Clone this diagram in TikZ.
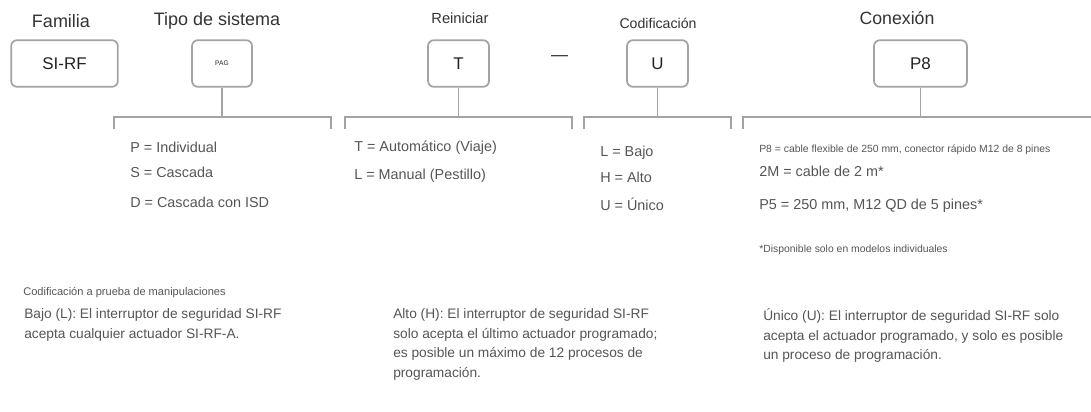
\documentclass[tikz,border=0pt]{standalone}
\usepackage{xcolor}
\usepackage{fontspec}
\setmainfont{Liberation Sans}
\usetikzlibrary{positioning, calc}
\definecolor{linec}{HTML}{A3A3A3}
\definecolor{titlec}{HTML}{333333}
\definecolor{boxtxt}{HTML}{222222}
\definecolor{itemc}{HTML}{555555}

\begin{document}
\begin{tikzpicture}[x=0.75pt, y=-0.75pt,
  title/.style={text=titlec, inner sep=0pt, font=\fontsize{13.5}{16}\selectfont},
  subtitle/.style={text=titlec, inner sep=0pt, font=\fontsize{11}{13}\selectfont},
  codebox/.style={draw=linec, line width=1.3pt, rounded corners=4.5pt,
                  minimum height=35pt, text=boxtxt, font=\fontsize{12.7}{15}\selectfont},
  link/.style={draw=linec, line width=1.3pt},
  item/.style={anchor=west, inner sep=0pt, text=itemc, font=\fontsize{10.8}{13}\selectfont},
  note/.style={anchor=west, inner sep=0pt, text=itemc, font=\fontsize{7.8}{9}\selectfont},
  para/.style={anchor=north west, inner sep=0pt, align=left, text=itemc,
               font=\fontsize{10.3}{14.6}\selectfont, execute at begin node={\strut}}]
  \useasboundingbox (0,0) rectangle (1091,411);
  % code boxes
  \node[codebox, minimum width=80pt] (fam) at (64.5,63.5) {SI-RF};
  \node[codebox, minimum width=45pt, font=\fontsize{5}{6}\selectfont] (sys) at (222,63.5) {PAG};
  \node[codebox, minimum width=45.75pt] (rst) at (458.5,63.5) {T};
  \node[codebox, minimum width=45.75pt] (cod) at (657.5,63.5) {U};
  \node[codebox, minimum width=69.75pt] (con) at (920.5,63.5) {P8};
  \node[text=boxtxt, font=\fontsize{12.7}{15}\selectfont] (dash) at (559.5,58) {—};
  % titles
  \node[title] (famT) at (61,21) {Familia};
  \node[title] (sysT) at (217,21) {Tipo de sistema};
  \node[subtitle] (rstT) at (460,18) {Reiniciar};
  \node[subtitle, font=\fontsize{10.6}{13}\selectfont] (codT) at (658,23) {Codificación};
  \node[title, font=\fontsize{13.3}{16}\selectfont] (conT) at (897,18) {Conexión};
  % brackets
  \coordinate (sysL) at (114,129); \coordinate (sysR) at (331,129); \coordinate (sysM) at (222,117);
  \coordinate (rstL) at (345,129); \coordinate (rstR) at (572,129); \coordinate (rstM) at (458.5,117);
  \coordinate (codL) at (584,129); \coordinate (codR) at (731,129); \coordinate (codM) at (657.5,117);
  \coordinate (conL) at (743,129); \coordinate (conR) at (1091,117); \coordinate (conM) at (920.5,117);
  \draw[link] (sysL) -- ++(0,-12) -| (sysR);
  \draw[link] (rstL) -- ++(0,-12) -| (rstR);
  \draw[link] (codL) -- ++(0,-12) -| (codR);
  \draw[link] (conL) -- ++(0,-12) -- (conR);
  \draw[link] (sys) -- (sysM);
  \draw[link] (rst) -- (rstM);
  \draw[link] (cod) -- (codM);
  \draw[link] (con) -- (conM);
  % options
  \node[item] (sysP) at (130,147) {P = Individual};
  \node[item] (sysS) at (130,172) {S = Cascada};
  \node[item] (sysD) at (130,202) {D = Cascada con ISD};
  \node[item] (rstAuto) at (354,148) {T = Automático (Viaje)};
  \node[item] (rstMan) at (354,176) {L = Manual (Pestillo)};
  \node[item] (codLow) at (600,153) {L = Bajo};
  \node[item] (codHigh) at (600,177) {H = Alto};
  \node[item] (codUniq) at (600,204) {U = Único};
  \node[note] (conP8) at (759,150) {P8 = cable flexible de 250 mm, conector rápido M12 de 8 pines};
  \node[item] (con2M) at (759,171) {2M = cable de 2 m*};
  \node[item] (conP5) at (759,206) {P5 = 250 mm, M12 QD de 5 pines*};
  \node[note] (conN) at (759,250) {*Disponible solo en modelos individuales};
  % coding notes
  \node[note, font=\fontsize{8.3}{10}\selectfont] (tamper) at (23,293) {Codificación a prueba de manipulaciones};
  \node[para] (low) at (24,308.5) {Bajo (L): El interruptor de seguridad SI-RF\\acepta cualquier actuador SI-RF-A.};
  \node[para] (high) at (393,308.5) {Alto (H): El interruptor de seguridad SI-RF\\solo acepta el último actuador programado;\\es posible un máximo de 12 procesos de\\programación.};
  \node[para] (uniq) at (763,308.5) {Único (U): El interruptor de seguridad SI-RF solo\\acepta el actuador programado, y solo es posible\\un proceso de programación.};
\end{tikzpicture}
\end{document}
